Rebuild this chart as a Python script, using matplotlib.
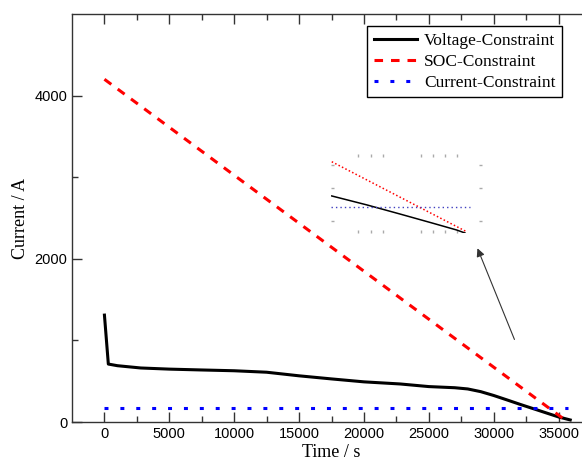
import matplotlib
matplotlib.use('Agg')
import matplotlib.pyplot as plt

# main curves
volt_t = [0, 300, 1000, 2800, 5000, 7400, 10000, 12500, 15000, 17500, 20000,
          22800, 25000, 27000, 28000, 29000, 30000, 31000, 32000, 33000,
          34000, 35000, 35900]
volt_i = [1310, 710, 690, 662, 648, 638, 628, 610, 566, 528, 492,
          466, 434, 420, 405, 372, 325, 272, 218, 166,
          114, 62, 25]
soc_t = [0, 35500]
soc_i = [4200, 25]
cur_t = [0, 35700]
cur_i = [170, 170]

# inset (zoom on the tail)
ins_volt_t = [32020, 32950, 33830, 34710, 35330, 35550]
ins_volt_i = [231, 180, 128, 75, 37, 20]
ins_soc_t = [32020, 35595]
ins_soc_i = [426, 27]
ins_cur_t = [32000, 35680]
ins_cur_i = [170, 170]

serif = 'Liberation Serif'
sans = 'Liberation Sans'

fig = plt.figure(figsize=(5.82, 4.68), dpi=100)
ax = fig.add_axes([72 / 582, 46 / 468, 519 / 582, 408 / 468])

ax.plot(volt_t, volt_i, color='black', lw=2.2, label='Voltage-Constraint')
l_soc, = ax.plot(soc_t, soc_i, color='red', lw=2.2, ls='--', label='SOC-Constraint')
l_soc.set_dashes([2.8, 2.6])
l_cur, = ax.plot(cur_t, cur_i, color='blue', lw=2.2, ls=':', label='Current-Constraint')
l_cur.set_dashes([1.3, 3.9])

ax.set_xlim(-2500, 37500)
ax.set_ylim(0, 5000)
ax.set_xticks([0, 5000, 10000, 15000, 20000, 25000, 30000, 35000])
ax.set_xticks(range(2500, 37500, 5000), minor=True)
ax.set_yticks([0, 2000, 4000])
ax.set_yticks([1000, 3000], minor=True)
ax.tick_params(which='both', direction='in', top=True, right=False,
               color='#333333', labelsize=10.5)
ax.tick_params(which='major', length=7, width=1)
ax.tick_params(which='minor', length=4, width=1)
for lab in ax.get_xticklabels() + ax.get_yticklabels():
    lab.set_family(sans)
for s in ax.spines.values():
    s.set_color('#333333')
    s.set_linewidth(1.0)

ax.set_xlabel('Time / s', family=serif, fontsize=13, labelpad=2)
ax.set_ylabel('Current / A', family=serif, fontsize=13, labelpad=4)

leg = ax.legend(loc='upper right', bbox_to_anchor=(562 / 582, 1 - 26 / 468),
                bbox_transform=fig.transFigure, borderaxespad=0,
                prop={'family': serif, 'size': 12.5}, fancybox=False,
                edgecolor='black', framealpha=1, handlelength=2.5,
                handletextpad=0.4, labelspacing=0.28, borderpad=0.38)
leg.get_frame().set_linewidth(1.0)

ax.annotate('', xy=(28670, 2160), xytext=(31680, 980),
            arrowprops=dict(arrowstyle='-|>', color='#333333', lw=0.8,
                            mutation_scale=12))

# inset
ins = fig.add_axes([331 / 582, (468 - 233) / 468, 151 / 582, 79 / 468])
ins.patch.set_alpha(0)
ins.plot(ins_volt_t, ins_volt_i, color='black', lw=1.1)
ins.plot(ins_soc_t, ins_soc_i, color='red', lw=1.1, ls=(0, (1, 1.5)))
ins.plot(ins_cur_t, ins_cur_i, color='#4040c0', lw=1.0, ls=(0, (1, 2.2)))
ins.set_xlim(32000, 36000)
ins.set_ylim(20, 470)
ins.set_xticks([32715, 33060, 33377, 34384, 34702, 35020, 35338])
ins.set_yticks([88, 276, 407])
ins.tick_params(direction='in', top=True, right=True, length=2, width=1,
                color='#aaaaaa', labelbottom=False, labelleft=False)
for s in ins.spines.values():
    s.set_visible(False)

fig.savefig('out.png', dpi=100)
